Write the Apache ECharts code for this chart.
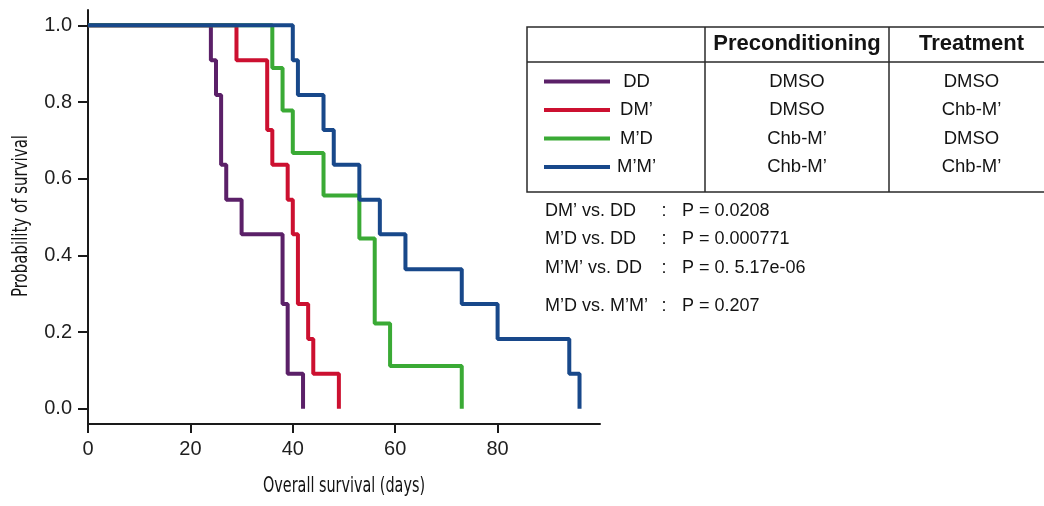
<!DOCTYPE html>
<html>
<head>
<meta charset="utf-8">
<script src="https://cdn.jsdelivr.net/npm/echarts@6/dist/echarts.min.js"></script>
<style>html,body{margin:0;padding:0;background:#fff;}#c{width:1044px;height:506px;}</style>
</head>
<body>
<div id="c"></div>
<script>
// ---- data ----
const groups = ['DD', 'DM\u2019', 'M\u2019D', 'M\u2019M\u2019'];
const colors = ['#5b2068', '#cc1030', '#3aaa35', '#18488a'];
const preconditioning = ['DMSO', 'DMSO', 'Chb-M\u2019', 'Chb-M\u2019'];
const treatment = ['DMSO', 'Chb-M\u2019', 'DMSO', 'Chb-M\u2019'];
const tableHeader = ['Preconditioning', 'Treatment'];

const ddTimes = [0, 24, 25, 26, 27, 30, 38, 39, 42];
const ddSurv  = [1, 0.909, 0.818, 0.636, 0.545, 0.455, 0.273, 0.091, 0];
const dmTimes = [0, 29, 35, 36, 39, 40, 41, 43, 44, 49];
const dmSurv  = [1, 0.909, 0.727, 0.636, 0.545, 0.455, 0.273, 0.182, 0.091, 0];
const mdTimes = [0, 36, 38, 40, 46, 53, 56, 59, 73];
const mdSurv  = [1, 0.889, 0.778, 0.667, 0.556, 0.444, 0.222, 0.111, 0];
const mmTimes = [0, 40, 41, 46, 48, 53, 57, 62, 73, 80, 94, 96];
const mmSurv  = [1, 0.909, 0.818, 0.727, 0.636, 0.545, 0.455, 0.364, 0.273, 0.182, 0.091, 0];

const xTicks = [0, 20, 40, 60, 80];
const yTicks = [0, 0.2, 0.4, 0.6, 0.8, 1.0];

const comparisons = ['DM\u2019 vs. DD', 'M\u2019D vs. DD', 'M\u2019M\u2019 vs. DD', 'M\u2019D vs. M\u2019M\u2019'];
const pValues = ['0.0208', '0.000771', '0. 5.17e-06', '0.207'];

const xTitle = 'Overall survival (days)';
const yTitle = 'Probability of survival';

// ---- build ----
const curves = [[ddTimes, ddSurv], [dmTimes, dmSurv], [mdTimes, mdSurv], [mmTimes, mmSurv]];
const series = curves.map((c, i) => ({
  name: groups[i],
  type: 'line',
  step: 'end',
  showSymbol: false,
  symbol: 'none',
  animation: false,
  lineStyle: { color: colors[i], width: 4 },
  itemStyle: { color: colors[i] },
  data: c[0].map((t, j) => [t, c[1][j]])
}));

const FONT = "'Liberation Sans', Arial, Helvetica, sans-serif";
const TFONT = "'DejaVu Sans Condensed', 'DejaVu Sans', sans-serif";
const mctx = document.createElement('canvas').getContext('2d');
function fitScale(text, font, target) { mctx.font = font; return target / mctx.measureText(text).width; }

function txt(x, y, text, size, opts) {
  opts = opts || {};
  return {
    type: 'text', x: x, y: y, silent: true,
    rotation: opts.rotation || 0,
    scaleX: opts.scaleX || 1,
    style: {
      text: text,
      font: opts.font || ((opts.bold ? 'bold ' : '') + size + 'px ' + FONT),
      fill: opts.fill || '#141414',
      align: opts.align || 'left', verticalAlign: 'middle',
      textAlign: opts.align || 'left', textVerticalAlign: 'middle'
    }
  };
}
const graphics = [];
// table
const tL = 527, tT = 27, tB = 192, tR = 1056, hY = 62, c1 = 705, c2 = 889;
const border = { stroke: '#2a2a2a', lineWidth: 1.5, fill: null };
graphics.push({ type: 'rect', silent: true, shape: { x: tL, y: tT, width: tR - tL, height: tB - tT }, style: border });
graphics.push({ type: 'line', silent: true, shape: { x1: tL, y1: hY, x2: tR, y2: hY }, style: border });
graphics.push({ type: 'line', silent: true, shape: { x1: c1, y1: tT, x2: c1, y2: tB }, style: border });
graphics.push({ type: 'line', silent: true, shape: { x1: c2, y1: tT, x2: c2, y2: tB }, style: border });
graphics.push(txt(797, 43.5, tableHeader[0], 22, { bold: true, align: 'center' }));
graphics.push(txt(971.5, 43.5, tableHeader[1], 22, { bold: true, align: 'center' }));
const rowY = [81.5, 110, 138.5, 167];
groups.forEach((g, i) => {
  graphics.push({ type: 'line', silent: true, shape: { x1: 544, y1: rowY[i], x2: 610, y2: rowY[i] }, style: { stroke: colors[i], lineWidth: 4 } });
  graphics.push(txt(636.5, rowY[i], g, 18.5, { align: 'center' }));
  graphics.push(txt(797, rowY[i], preconditioning[i], 18.5, { align: 'center' }));
  graphics.push(txt(971.5, rowY[i], treatment[i], 18.5, { align: 'center' }));
});
// p-values
const pY = [211, 239.5, 268.5, 306];
comparisons.forEach((c, i) => {
  graphics.push(txt(545, pY[i], c, 18));
  graphics.push(txt(664, pY[i], ':', 18, { align: 'center' }));
  graphics.push(txt(682, pY[i], 'P = ' + pValues[i], 18));
});
// axis titles (condensed look)
const tf = '21px ' + TFONT;
graphics.push(txt(344, 487, xTitle, 21, { font: tf, align: 'center', scaleX: fitScale(xTitle, tf, 162) }));
graphics.push(txt(22, 216, yTitle, 21, { font: tf, align: 'center', scaleX: fitScale(yTitle, tf, 162), rotation: Math.PI / 2 }));

const chart = echarts.init(document.getElementById('c'), null, { renderer: 'canvas' });
chart.setOption({
  animation: false,
  backgroundColor: '#ffffff',
  grid: { left: 88, right: 444, top: 10, bottom: 82, containLabel: false },
  xAxis: {
    type: 'value', min: 0, max: 100,
    axisLine: { show: true, onZero: false, lineStyle: { color: '#1a1a1a', width: 2 } },
    axisTick: { show: true, length: 9, lineStyle: { color: '#1a1a1a', width: 2 }, customValues: xTicks },
    axisLabel: { customValues: xTicks, fontSize: 20, fontFamily: FONT, color: '#1e1e1e', margin: 15 },
    splitLine: { show: false }
  },
  yAxis: {
    type: 'value', min: -0.04, max: 1.04,
    axisLine: { show: true, onZero: false, lineStyle: { color: '#1a1a1a', width: 2 } },
    axisTick: { show: true, length: 10, lineStyle: { color: '#1a1a1a', width: 2 }, customValues: yTicks },
    axisLabel: { customValues: yTicks, fontSize: 20, fontFamily: FONT, color: '#1e1e1e', margin: 16,
      formatter: v => v.toFixed(1) },
    splitLine: { show: false }
  },
  series: series,
  graphic: graphics
});
</script>
</body>
</html>
